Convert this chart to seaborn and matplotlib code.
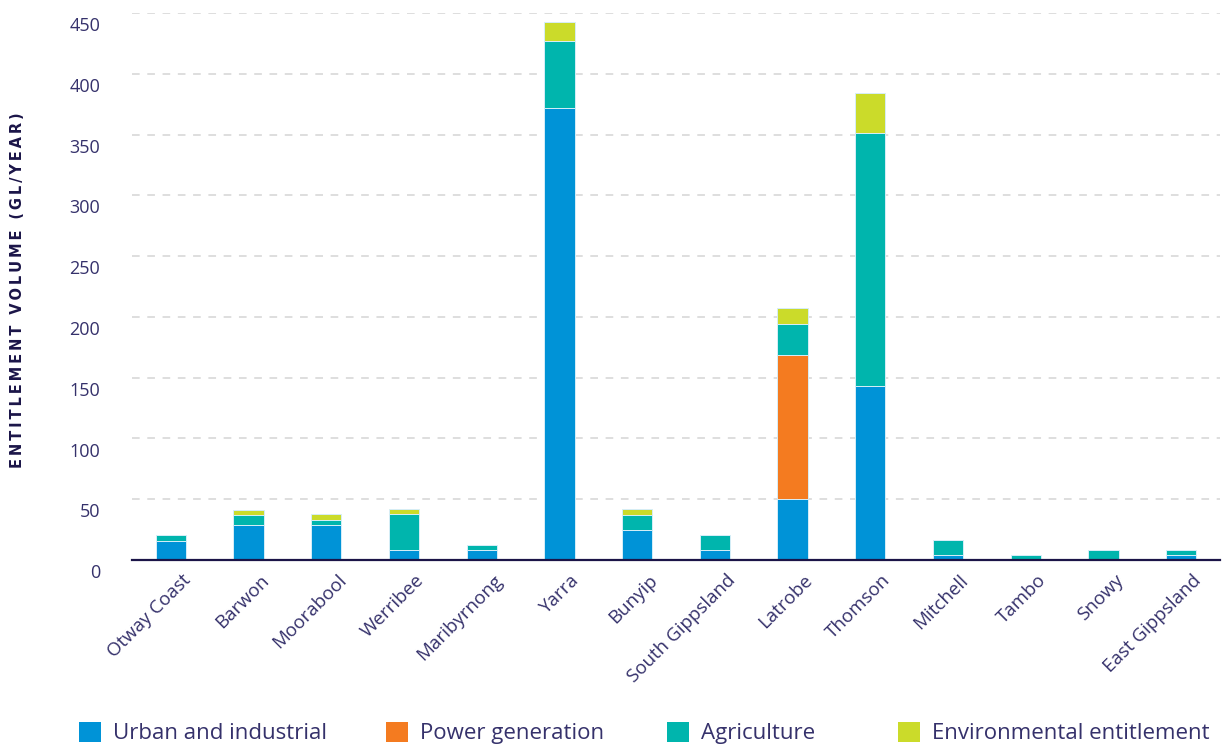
import numpy as np
import pandas as pd
import matplotlib
matplotlib.use("Agg")
import matplotlib.pyplot as plt
import matplotlib.transforms as mtransforms
from matplotlib.patches import Patch
import seaborn as sns

basins = ['Otway Coast', 'Barwon', 'Moorabool', 'Werribee', 'Maribyrnong', 'Yarra',
          'Bunyip', 'South Gippsland', 'Latrobe', 'Thomson', 'Mitchell', 'Tambo',
          'Snowy', 'East Gippsland']
urban = [16, 29, 29, 8, 8, 372, 25, 8, 50, 143, 4, 0, 0, 4]
power = [0, 0, 0, 0, 0, 0, 0, 0, 119, 0, 0, 0, 0, 0]
agric = [4.5, 8, 4, 29.5, 4, 55, 12, 12.5, 25, 208, 12.5, 4, 8, 4]
envir = [0, 4.5, 4.5, 4.5, 0, 16, 4.7, 0, 13, 33, 0, 0, 0, 0]
series_names = ['Urban and industrial', 'Power generation', 'Agriculture', 'Environmental entitlement']
yticks = [0, 50, 100, 150, 200, 250, 300, 350, 400, 450]
ylabel = 'ENTITLEMENT VOLUME (GL/YEAR)'

colors = ['#0093d7', '#f47b20', '#00b5ad', '#cbdb2a']
text_col = '#35316b'
navy = '#1b1548'

sns.set_theme(style='white')
plt.rcParams['font.family'] = ['Open Sans', 'DejaVu Sans']

fig = plt.figure(figsize=(12.32, 7.49), dpi=100)
ax = fig.add_axes([132/1232, 1-560/749, (1220-132)/1232, (560-13)/749])

df = pd.DataFrame({'basin': basins, 'urban': urban, 'power': power,
                   'agric': agric, 'envir': envir})
bottom = np.zeros(len(basins))
for col, c in zip(['urban', 'power', 'agric', 'envir'], colors):
    sns.barplot(data=df, x='basin', y=col, color=c, width=0.39, bottom=bottom,
                ax=ax, edgecolor='#d6eef8', linewidth=0.7, saturation=1)
    bottom = bottom + df[col].values

ax.set_xlim(-0.5, len(basins) - 0.5)
ax.set_ylim(0, 450)
ax.set_yticks(yticks)
ax.set_yticklabels([str(v) for v in yticks])
ax.set_xlabel('')
ax.set_ylabel('')

for v in yticks[1:]:
    ax.axhline(v, color='#d4d4d4', linewidth=1.1, linestyle=(0, (5, 5)), zorder=0)

for s in ['top', 'right', 'left']:
    ax.spines[s].set_visible(False)
ax.spines['bottom'].set_color(navy)
ax.spines['bottom'].set_linewidth(1.6)

ax.tick_params(axis='y', length=0, pad=23, labelsize=13, labelcolor=text_col)
ax.tick_params(axis='x', length=0, pad=4, labelsize=13.5, labelcolor=text_col)
for lab in ax.get_yticklabels():
    lab.set_transform(lab.get_transform() + mtransforms.ScaledTranslation(0, -8/72, fig.dpi_scale_trans))
for lab in ax.get_xticklabels():
    lab.set_rotation(45)
    lab.set_ha('right')
    lab.set_rotation_mode('anchor')
    lab.set_transform(lab.get_transform() + mtransforms.ScaledTranslation(8/72, -4/72, fig.dpi_scale_trans))

fig.text(18/1232, 1-290/749, '\u2009'.join(ylabel),
         rotation=90, ha='center', va='center', fontsize=10.5, fontweight='bold', color=navy,
         family=['DejaVu Sans'])

xs = [79, 386, 667, 898]
for x, name, c in zip(xs, series_names, colors):
    leg = fig.legend(handles=[Patch(facecolor=c, edgecolor='none')], labels=[name],
                     loc='center left', bbox_to_anchor=(x/1232, 1-733/749),
                     frameon=False, fontsize=16, handlelength=1.0, handleheight=1.0,
                     handletextpad=0.55, borderpad=0, borderaxespad=0)
    for t in leg.get_texts():
        t.set_color(text_col)

fig.savefig('out.png', dpi=100)
